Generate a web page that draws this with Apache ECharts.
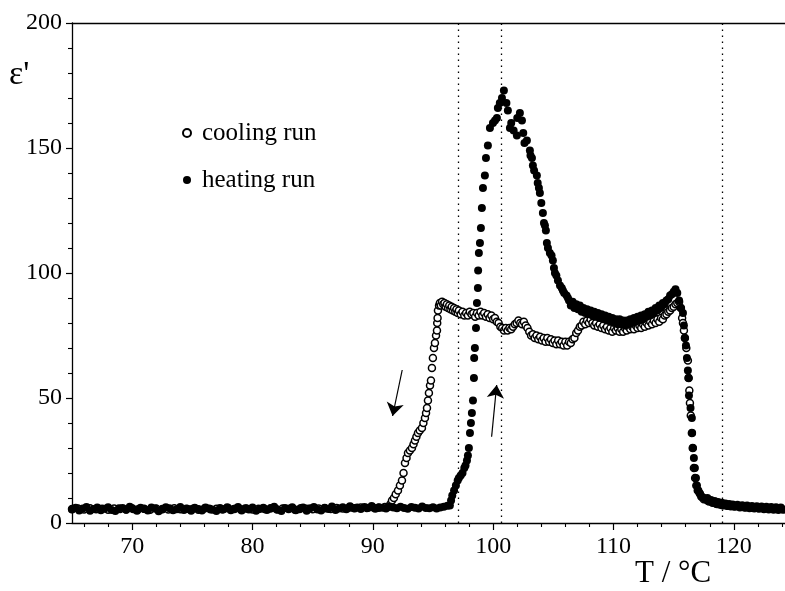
<!DOCTYPE html>
<html>
<head>
<meta charset="utf-8">
<script src="https://cdn.jsdelivr.net/npm/echarts@6/dist/echarts.min.js"></script>
<style>html,body{margin:0;padding:0;background:#fff}#c{width:785px;height:591px}</style>
</head>
<body>
<div id="c"></div>
<script>
// ---- axis / labels ----
const xMajorTicks = [70, 80, 90, 100, 110, 120];
const xMinorTicks = [66, 68, 72, 74, 76, 78, 82, 84, 86, 88, 92, 94, 96, 98, 102, 104, 106, 108, 112, 114, 116, 118, 122, 124];
const seriesNames = ['cooling run', 'heating run'];
const transitionTemps = [97.1, 100.7, 119.0];
const coolingArrow = [[92.44, 61.2], [91.64, 42.8]];
const heatingArrow = [[99.87, 34.5], [100.29, 55.2]];

// ---- heating run (filled circles) ----
const heatingBase = [
[65.0,5.4],[65.3,6.1],[65.6,5.0],[65.9,5.8],[66.2,6.4],[66.5,4.9],[66.8,5.6],[67.1,6.2],[67.4,5.1],[67.7,5.7],
[68.0,6.3],[68.3,5.2],[68.6,4.8],[68.9,5.9],[69.2,6.0],[69.5,5.3],[69.8,6.5],[70.1,5.5],[70.4,4.9],[70.7,6.1],
[71.0,5.6],[71.3,5.0],[71.6,6.2],[71.9,5.8],[72.2,4.7],[72.5,5.4],[72.8,6.3],[73.1,5.9],[73.4,5.1],[73.7,5.5],
[74.0,6.4],[74.3,5.2],[74.6,5.7],[74.9,4.9],[75.2,6.1],[75.5,5.6],[75.8,5.0],[76.1,6.2],[76.4,5.8],[76.7,5.3],
[77.0,4.8],[77.3,6.0],[77.6,5.5],[77.9,6.3],[78.2,5.1],[78.5,5.7],[78.8,6.4],[79.1,5.0],[79.4,5.9],[79.7,5.4],
[80.0,6.2],[80.3,4.9],[80.6,5.6],[80.9,6.1],[81.2,5.2],[81.5,5.8],[81.8,6.5],[82.1,5.3],[82.4,4.8],[82.7,6.0],
[83.0,5.7],[83.3,6.3],[83.6,5.1],[83.9,5.5],[84.2,6.2],[84.5,4.9],[84.8,5.9],[85.1,6.4],[85.4,5.4],[85.7,5.0],
[86.0,6.1],[86.3,5.6],[86.6,6.6],[86.9,5.2],[87.2,5.8],[87.5,6.3],[87.8,5.5],[88.1,6.7],[88.4,5.9],[88.7,6.2],
[89.0,5.6],[89.3,6.4],[89.6,6.0],[89.9,6.8],[90.2,5.7],[90.5,6.3],[90.8,6.1],[91.1,5.8],[91.4,6.6],[91.7,6.2],
[92.0,5.9],[92.3,6.5],[92.6,6.0],[92.9,5.7],[93.2,6.4],[93.5,6.1],[93.8,5.8],[94.1,6.6],[94.4,6.0],[94.7,5.9],
[95.0,6.3],[95.3,5.8],[95.6,6.2],[95.9,6.5],[96.2,6.9]
];
const heatingRise = [
[96.4,7],[96.5,9],[96.6,11],[96.75,13],[96.9,15],[97.05,17],[97.15,18],[97.3,19],[97.45,20],[97.6,22],
[97.7,23],[97.82,25],[97.9,27],[97.98,30],[98.07,36],[98.15,40],[98.23,44],[98.32,49],[98.4,58],[98.42,66],
[98.48,70],[98.57,78],[98.65,88],[98.73,94],[98.75,101],[98.81,108],[98.9,112],[98.98,118],[99.06,126],[99.15,134],
[99.31,139],[99.4,146],[99.56,151],[99.73,158],[99.98,160],[100.15,161],[100.31,162],[100.39,166],[100.55,168],[100.73,170],[100.89,173]
];
const heatingFall = [
[101.1,168],[101.22,165],[101.39,158],[101.5,160],[101.7,157],[101.97,155],[102.0,162],[102.22,164],[102.39,161],[102.5,156],
[102.6,152],[102.8,153],[103.05,149],[103.1,147],[103.22,146],[103.3,143],[103.4,141],[103.63,139],[103.7,136],[103.8,134],
[103.88,132],[104.0,128],[104.13,124],[104.22,120],[104.3,119],[104.38,117],[104.46,112],[104.55,110],[104.71,108],[104.85,107],
[104.96,105],[105.05,102],[105.13,100],[105.25,99],[105.38,97],[105.55,95],[105.7,94],[105.79,93],[105.9,92],[106.1,91],[106.21,90]
];
const heatingShoulder = [
[106.3,89],[106.45,87],[106.6,88.5],[106.75,86],[106.9,87.5],[107.05,85.5],[107.2,87],[107.35,84.5],[107.5,86],[107.65,84],
[107.8,85.5],[107.95,83.5],[108.1,85],[108.25,83],[108.4,84.5],[108.55,82.5],[108.7,84],[108.85,82],[109.0,83.5],[109.15,81.5],
[109.3,83],[109.45,81],[109.6,82.5],[109.75,80.5],[109.9,82],[110.05,80],[110.2,81.5],[110.35,79.5],[110.5,81.5],[110.65,79.5],
[110.8,81],[110.95,79],[111.1,81],[111.25,79.5],[111.4,81.5],[111.55,80],[111.7,82],[111.85,80.5],[112.0,82.5],[112.15,81],
[112.3,83],[112.45,81.5],[112.6,83.5],[112.75,82.5],[112.9,84.5],[113.05,83],[113.2,85],[113.35,84],[113.5,86],[113.65,85],
[113.8,87],[113.95,86],[114.1,88],[114.25,87.5],[114.4,89],[114.55,89.5],[114.7,91],[114.85,91.5],[115.0,92.5],[115.15,93.5],[115.3,92]
];
const heatingDrop = [
[115.45,89],[115.6,86],[115.77,84],[115.85,79],[115.93,74],[116.02,71],[116.1,66],[116.18,61],[116.22,58],[116.27,51],
[116.4,46],[116.51,42],[116.53,36],[116.6,30],[116.68,26],[116.76,22],[116.85,18],[116.93,15],[117.05,13],[117.2,11.5],
[117.35,10.5],[117.5,10]
];
const heatingTail = [
[117.65,9.5],[117.8,10],[117.95,8.5],[118.1,9.2],[118.25,8],[118.4,8.8],[118.55,7.6],[118.7,8.4],[118.85,7.3],[119.0,8.1],
[119.15,7],[119.3,7.8],[119.45,6.8],[119.6,7.6],[119.75,6.6],[119.9,7.4],[120.1,6.5],[120.3,7.3],[120.5,6.2],[120.7,7.1],
[120.9,6.1],[121.1,7.0],[121.3,5.9],[121.5,6.8],[121.7,5.8],[121.9,6.7],[122.1,5.7],[122.3,6.6],[122.5,5.5],[122.7,6.5],
[122.9,5.4],[123.1,6.4],[123.3,5.3],[123.5,6.3],[123.7,5.2],[123.9,6.2],[124.1,5.3]
];

// ---- cooling run (open circles) ----
const coolingBase = [
[65.0,5.6],[65.5,5.8],[66.0,5.4],[66.5,5.9],[67.0,5.5],[67.5,5.7],[68.0,5.3],[68.5,5.8],[69.0,5.6],[69.5,5.4],
[70.0,5.9],[70.5,5.5],[71.0,5.7],[71.5,5.3],[72.0,5.8],[72.5,5.6],[73.0,5.4],[73.5,5.9],[74.0,5.5],[74.5,5.7],
[75.0,5.6],[75.5,5.3],[76.0,5.8],[76.5,5.5],[77.0,5.7],[77.5,5.4],[78.0,5.9],[78.5,5.6],[79.0,5.5],[79.5,5.8],
[80.0,5.4],[80.5,5.7],[81.0,5.6],[81.5,5.9],[82.0,5.5],[82.5,5.8],[83.0,5.6],[83.5,5.4],[84.0,5.9],[84.5,5.7],
[85.0,5.5],[85.5,5.8],[86.0,5.9],[86.5,5.6],[87.0,6.0],[87.5,5.8],[88.0,6.1],[88.5,5.9],[89.0,6.2],[89.5,6.0],
[90.0,6.3],[90.5,6.1],[91.0,6.4]
];
const coolingRise = [
[91.3,6.5],[91.45,7.5],[91.59,9],[91.75,10],[91.9,11.5],[92.09,13],[92.25,15],[92.42,17],[92.55,20],[92.67,24],
[92.8,26],[92.92,28],[93.08,29],[93.25,30],[93.38,31.5],[93.5,33],[93.62,34.5],[93.75,36],[93.9,37],[94.08,38],
[94.2,40],[94.33,42],[94.42,44],[94.5,46],[94.58,49],[94.66,52],[94.75,55],[94.83,57],[94.91,62],[94.99,66],
[95.08,70],[95.16,72],[95.25,75],[95.33,77],[95.35,80],[95.38,82],[95.41,85],[95.5,87],[95.57,88]
];
const coolingPlateau = [
[95.65,87],[95.75,88.5],[95.85,87.5],[95.95,88],[96.05,86.5],[96.15,87.5],[96.25,86],[96.35,87],[96.45,85.5],[96.55,86.5],
[96.65,85],[96.75,86],[96.85,84.5],[96.95,85.5],[97.05,84],[97.15,85],[97.3,83.5],[97.45,84.5],[97.6,83],[97.75,84],
[97.9,83],[98.05,84.5],[98.2,83.5],[98.35,84],[98.5,82.5],[98.65,84],[98.8,83],[98.95,84.5],[99.1,83],[99.25,84],
[99.4,82.5],[99.55,83.5],[99.7,82],[99.85,83],[100.0,81.5],[100.15,82],[100.3,80.5],[100.45,80],[100.6,78.5],[100.75,78],
[100.9,77],[101.05,78],[101.2,77],[101.35,78],[101.5,77.5],[101.65,78.5],[101.8,79.5],[101.95,80],[102.1,81],[102.25,80],
[102.4,79.5],[102.55,80.5],[102.7,79],[102.85,78],[103.0,76.5],[103.15,75],[103.3,75.5],[103.45,74],[103.6,75],[103.75,73.5],
[103.9,74.5],[104.05,73],[104.2,74],[104.35,72.5],[104.5,74],[104.65,72.5],[104.8,73.5],[104.95,72],[105.1,73],[105.25,71.5],
[105.4,73],[105.55,71.5],[105.7,72.5],[105.85,71],[106.0,72.5],[106.15,71],[106.3,72.5]
];
const coolingHump = [
[106.45,72],[106.6,73.5],[106.75,74],[106.9,76],[107.05,77],[107.2,78.5],[107.35,79],[107.5,80.5],[107.65,79.5],[107.8,81],
[107.95,80],[108.1,81.5],[108.25,80],[108.4,79],[108.55,80],[108.7,78.5],[108.85,79.5],[109.0,78],[109.15,79],[109.3,77.5],
[109.45,78.5],[109.6,77],[109.75,78],[109.9,76.5],[110.05,78],[110.2,77],[110.35,78],[110.5,76.5],[110.65,77.5],[110.8,76.5],
[110.95,78],[111.1,77],[111.25,78.5],[111.4,77.5],[111.55,78.5],[111.7,77.5],[111.85,79],[112.0,78],[112.15,79],[112.3,78],
[112.45,79.5],[112.6,78.5],[112.75,80],[112.9,79],[113.05,80.5],[113.2,79.5],[113.35,81],[113.5,80],[113.65,81.5],[113.8,80.5],
[113.95,82],[114.1,81.5],[114.25,83],[114.4,83.5],[114.55,84.5],[114.7,85],[114.85,86],[115.0,86.5],[115.15,87.5],[115.3,88],
[115.45,88.5]
];
const coolingDrop = [
[115.6,86],[115.7,82],[115.77,80],[115.85,77],[115.93,74],[116.05,70],[116.18,65],[116.25,58],[116.3,53],[116.35,48],
[116.42,43],[116.51,36],[116.58,30],[116.68,22],[116.78,18],[116.88,15],[117.0,13],[117.15,12],[117.3,10.5],[117.5,9.5]
];
const coolingTail = [
[117.8,9],[118.2,8.3],[118.6,7.6],[119.0,7.2],[119.5,6.9],[120.0,6.7],[120.5,6.5],[121.0,6.3],[121.5,6.1],[122.0,6.0],
[122.5,5.9],[123.0,5.8],[123.5,5.7],[124.0,5.6]
];

const heatingData = [].concat(heatingBase, heatingRise, heatingFall, heatingShoulder, heatingDrop, heatingTail);
const coolingData = [].concat(coolingBase, coolingRise, coolingPlateau, coolingHump, coolingDrop, coolingTail);

const FONT = 'Liberation Serif';
const X_MIN = 65, X_MAX = 124.25;

const chart = echarts.init(document.getElementById('c'), null, {renderer: 'canvas'});
chart.setOption({
  animation: false,
  backgroundColor: '#fff',
  grid: {left: 72, right: 0, top: 23, bottom: 68, outerBoundsMode: 'none', containLabel: false},
  legend: {
    data: [{name: seriesNames[0], icon: 'circle'}, {name: seriesNames[1], icon: 'circle'}],
    orient: 'vertical', left: 177, top: 115,
    itemWidth: 20, itemHeight: 8, itemGap: 21,
    selectedMode: false,
    textStyle: {fontFamily: FONT, fontSize: 25, color: '#000', lineHeight: 26}
  },
  xAxis: [
    {type: 'value', min: X_MIN, max: X_MAX, position: 'bottom',
     axisLine: {show: true, onZero: false, lineStyle: {color: '#000', width: 1.3}},
     axisTick: {show: true, length: 7, customValues: xMajorTicks, lineStyle: {color: '#000', width: 1.2}},
     axisLabel: {show: true, customValues: xMajorTicks, margin: 12, fontFamily: FONT, fontSize: 24, color: '#000'},
     splitLine: {show: false}},
    {type: 'value', min: X_MIN, max: X_MAX, position: 'bottom',
     axisLine: {show: false, onZero: false},
     axisTick: {show: true, length: 4, customValues: xMinorTicks, lineStyle: {color: '#000', width: 1.1}},
     axisLabel: {show: false}, splitLine: {show: false}},
    {type: 'value', min: X_MIN, max: X_MAX, position: 'top',
     axisLine: {show: true, onZero: false, lineStyle: {color: '#000', width: 1.3}},
     axisTick: {show: false}, axisLabel: {show: false}, splitLine: {show: false}}
  ],
  yAxis: {
    type: 'value', min: 0, max: 200, interval: 50,
    axisLine: {show: true, onZero: false, lineStyle: {color: '#000', width: 1.3}},
    axisTick: {show: true, length: 6, lineStyle: {color: '#000', width: 1.2}},
    minorTick: {show: true, splitNumber: 5, length: 4, lineStyle: {color: '#000', width: 1.1}},
    axisLabel: {margin: 10, fontFamily: FONT, fontSize: 24, color: '#000'},
    splitLine: {show: false}
  },
  graphic: [
    {type: 'text', left: 9, top: 58, silent: true,
     style: {text: "ε'", font: '34px "Liberation Serif"', fill: '#000'}},
    {type: 'text', left: 635, top: 558, silent: true,
     style: {text: 'T / °C', font: '31px "Liberation Serif"', fill: '#000'}}
  ],
  series: [
    {name: seriesNames[0], type: 'scatter', data: coolingData,
     symbol: 'circle', symbolSize: 7,
     itemStyle: {color: '#fff', borderColor: '#000', borderWidth: 1.5, opacity: 1},
     emphasis: {disabled: true}, z: 2},
    {name: seriesNames[1], type: 'scatter', data: heatingData,
     symbol: 'circle', symbolSize: 8,
     itemStyle: {color: '#000', opacity: 1},
     emphasis: {disabled: true}, z: 3,
     markLine: {
       silent: true, symbol: ['none', 'none'], animation: false,
       label: {show: false},
       lineStyle: {color: '#000', width: 1.3, type: [1.5, 4.5]},
       data: transitionTemps.map(t => ({xAxis: t}))
     }},
    {name: 'arrows', type: 'scatter', data: [], z: 4,
     markLine: {
       silent: true, symbol: ['none', 'arrow'], symbolSize: 13, animation: false,
       label: {show: false},
       lineStyle: {color: '#000', width: 1.2, type: 'solid'},
       data: [
         [{coord: coolingArrow[0]}, {coord: coolingArrow[1]}],
         [{coord: heatingArrow[0]}, {coord: heatingArrow[1]}]
       ]
     }}
  ]
});
</script>
</body>
</html>
